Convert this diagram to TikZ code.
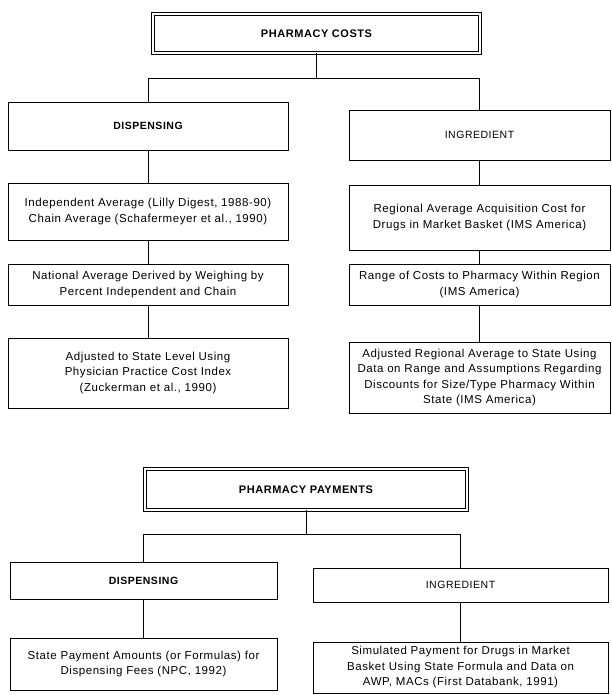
\documentclass[tikz,border=0pt]{standalone}
\usepackage{fontspec}
\setmainfont{Liberation Sans}[LetterSpace=5]
\usepackage{tikz}
\usetikzlibrary{calc}
\newcommand{\bodyfont}{\fontsize{11.5}{15.5}\selectfont}
\newcommand{\headfont}{\fontsize{10.5}{13}\selectfont}
\newcommand{\titlefont}{\fontsize{11}{13}\selectfont\bfseries}
\newcommand{\widthleft}{280pt}
\newcommand{\widthright}{261pt}
\newcommand{\widthleftB}{267pt}
\newcommand{\widthrightB}{295pt}
\tikzset{
    common/.style={draw, rectangle, align=center, line width=0.9pt, inner sep=2pt, font=\bodyfont},
    title/.style={common, double, double distance=1.3pt, font=\titlefont},
    head/.style={common, font=\headfont},
    link/.style={line width=0.7pt},
}
\begin{document}
\begin{tikzpicture}[x=1pt, y=-1pt]
    \useasboundingbox (0,0) rectangle (611,695);

    % costs
    \node[title, minimum width=327pt, minimum height=39pt] (costs) at (316.5,33.5) {PHARMACY COSTS};
    \node[head, minimum width=\widthleft, minimum height=48pt, font=\headfont\bfseries] (dispA) at (148,126) {DISPENSING};
    \node[head, minimum width=\widthright, minimum height=50pt] (ingA) at (479.5,135) {INGREDIENT};
    \node[common, minimum width=\widthleft, minimum height=57pt] (indep) at (148,211.5)
        {Independent Average (Lilly Digest, 1988-90)\\Chain Average (Schafermeyer et al., 1990)};
    \node[common, minimum width=\widthright, minimum height=65pt] (regional) at (479.5,217.5)
        {Regional Average Acquisition Cost for\\Drugs in Market Basket (IMS America)};
    \node[common, minimum width=\widthleft, minimum height=41pt] (national) at (148,284.5)
        {National Average Derived by Weighing by\\Percent Independent and Chain};
    \node[common, minimum width=\widthright, minimum height=41pt] (range) at (479.5,284.5)
        {Range of Costs to Pharmacy Within Region\\(IMS America)};
    \node[common, minimum width=\widthleft, minimum height=70pt] (adjLeft) at (148,373)
        {Adjusted to State Level Using\\Physician Practice Cost Index\\(Zuckerman et al., 1990)};
    \node[common, minimum width=\widthright, minimum height=71pt] (adjRight) at (479.5,377.5)
        {Adjusted Regional Average to State Using\\Data on Range and Assumptions Regarding\\Discounts for Size/Type Pharmacy Within\\State (IMS America)};

    % payments
    \node[title, minimum width=322pt, minimum height=41pt] (payments) at (306,489.5) {PHARMACY PAYMENTS};
    \node[head, minimum width=\widthleftB, minimum height=37pt, font=\headfont\bfseries] (dispB) at (143.5,580.5) {DISPENSING};
    \node[head, minimum width=\widthrightB, minimum height=34pt] (ingB) at (460.5,585) {INGREDIENT};
    \node[common, minimum width=\widthleftB, minimum height=52pt] (statePay) at (143.5,664)
        {State Payment Amounts (or Formulas) for\\Dispensing Fees (NPC, 1992)};
    \node[common, minimum width=\widthrightB, minimum height=51pt] (simPay) at (460.5,667.5)
        {Simulated Payment for Drugs in Market\\Basket Using State Formula and Data on\\AWP, MACs (First Databank, 1991)};

    \draw[link] (costs.south) -- ++(0,25) coordinate (splitA);
    \draw[link] (splitA) -| (dispA.north);
    \draw[link] (splitA) -| (ingA.north);
    \draw[link] (dispA) -- (indep) (indep) -- (national) (national) -- (adjLeft);
    \draw[link] (ingA) -- (regional) (regional) -- (range) (range) -- (adjRight);

    \draw[link] (payments.south) -- ++(0,24) coordinate (splitB);
    \draw[link] (splitB) -| (dispB.north);
    \draw[link] (splitB) -| (ingB.north);
    \draw[link] (dispB) -- (statePay);
    \draw[link] (ingB) -- (simPay);
\end{tikzpicture}
\end{document}
